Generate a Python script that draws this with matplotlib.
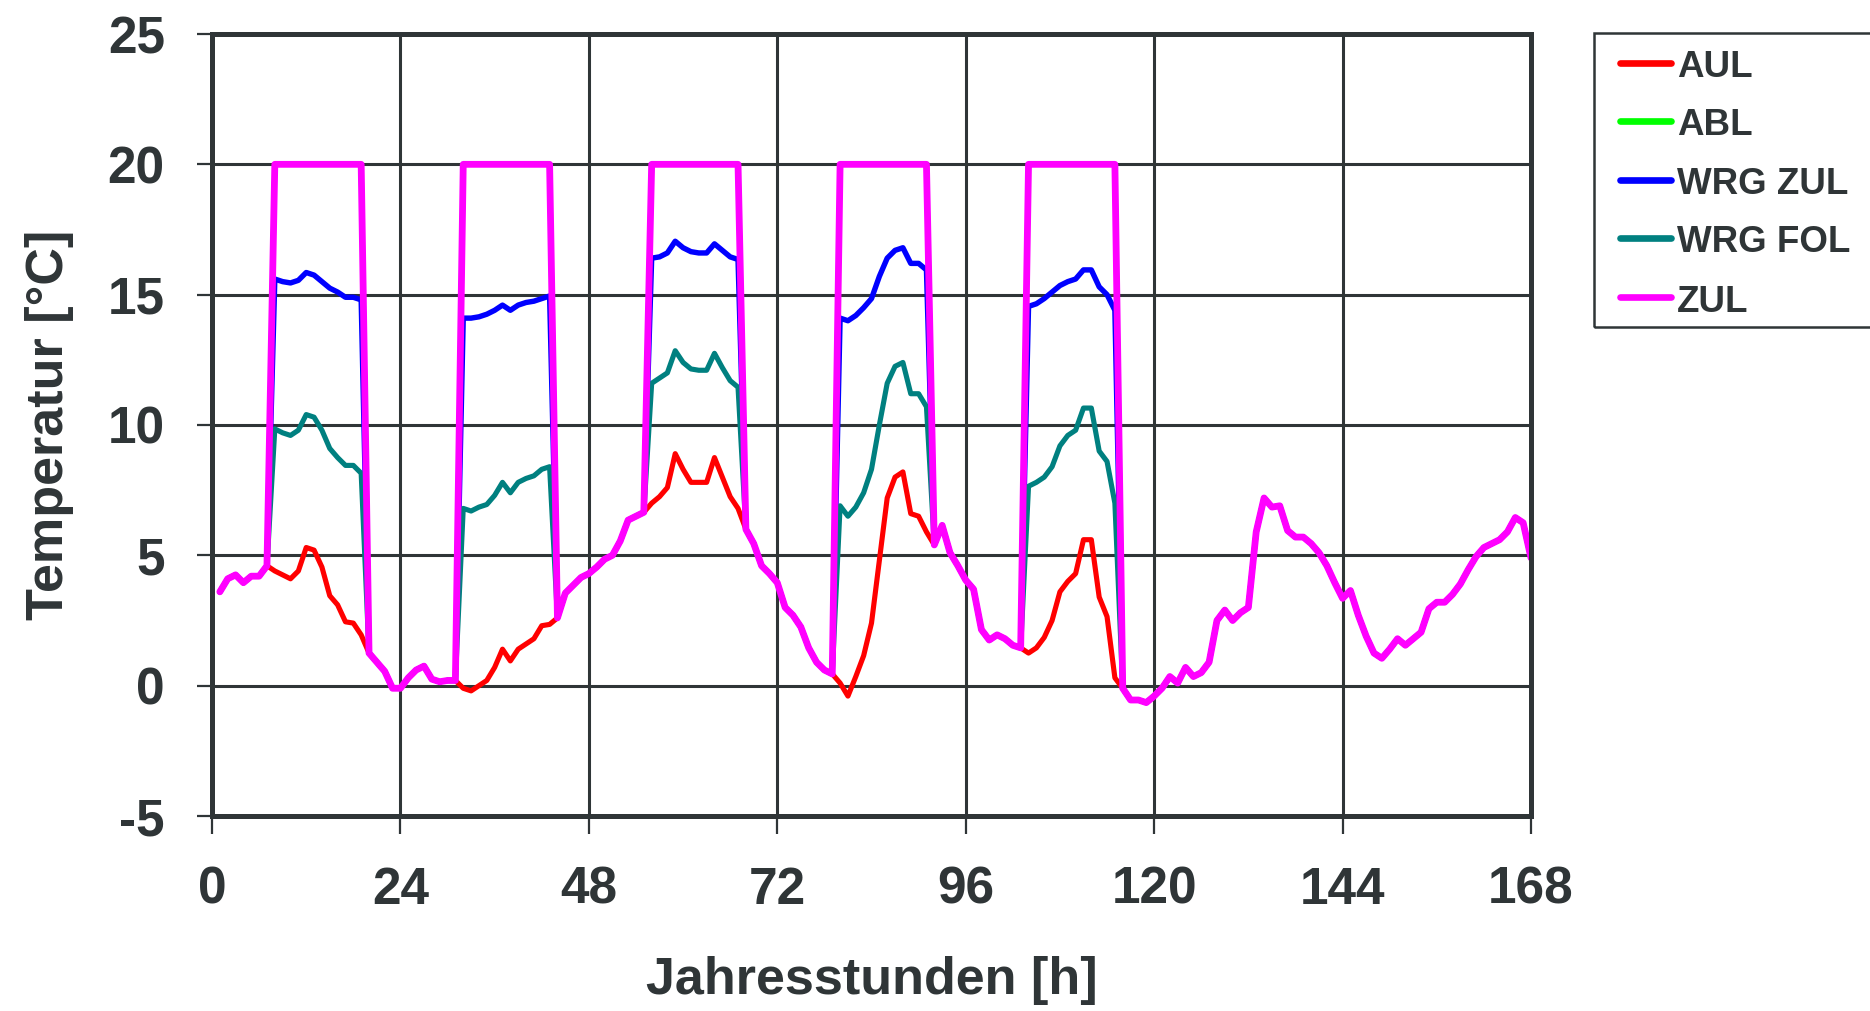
import matplotlib
matplotlib.use("Agg")
import matplotlib.pyplot as plt
from matplotlib.lines import Line2D
from matplotlib.patches import Rectangle

# ---------------- data ----------------
hours = list(range(1, 169))

# outdoor air (AUL), hourly values h1..h168
aul = [
    3.6, 4.1, 4.25, 3.95, 4.2, 4.2, 4.6, 4.4, 4.25, 4.1, 4.4, 5.3,
    5.2, 4.55, 3.45, 3.1, 2.45, 2.4, 1.95, 1.25, 0.9, 0.55, -0.1, -0.1,
    0.3, 0.6, 0.75, 0.25, 0.15, 0.2, 0.2, -0.1, -0.2, 0.0, 0.2, 0.7,
    1.4, 0.95, 1.4, 1.6, 1.8, 2.3, 2.35, 2.6, 3.55, 3.85, 4.15, 4.3,
    4.55, 4.85, 5.0, 5.55, 6.35, 6.5, 6.65, 7.0, 7.25, 7.6, 8.9, 8.3,
    7.8, 7.8, 7.8, 8.75, 8.0, 7.25, 6.8, 6.0, 5.45, 4.6, 4.3, 3.95,
    3.0, 2.7, 2.25, 1.45, 0.9, 0.6, 0.45, 0.1, -0.4, 0.35, 1.15, 2.4,
    4.8, 7.2, 8.0, 8.2, 6.6, 6.5, 5.9, 5.4, 6.15, 5.1, 4.6, 4.05,
    3.7, 2.15, 1.75, 1.95, 1.8, 1.55, 1.45, 1.25, 1.45, 1.85, 2.5, 3.6,
    4.0, 4.3, 5.6, 5.6, 3.4, 2.65, 0.3, -0.1, -0.55, -0.55, -0.65, -0.4,
    -0.1, 0.35, 0.1, 0.7, 0.35, 0.5, 0.9, 2.5, 2.9, 2.5, 2.8, 3.0,
    5.9, 7.2, 6.85, 6.9, 5.95, 5.7, 5.7, 5.45, 5.1, 4.6, 3.95, 3.35,
    3.65, 2.7, 1.9, 1.25, 1.05, 1.4, 1.8, 1.55, 1.8, 2.05, 2.95, 3.2,
    3.2, 3.5, 3.9, 4.45, 4.95, 5.3, 5.45, 5.6, 5.9, 6.45, 6.25, 4.9,
]

# operating periods (first hour of each 12-hour block)
block_starts = [8, 32, 56, 80, 104]
zul_setpoint = 20.0

# supply air after heat recovery (WRG ZUL) during operation
wrg_zul_blocks = [
    [15.6, 15.5, 15.45, 15.55, 15.85, 15.75, 15.5, 15.25, 15.1, 14.9, 14.9, 14.8],
    [14.1, 14.1, 14.15, 14.25, 14.4, 14.6, 14.4, 14.6, 14.7, 14.75, 14.85, 14.95],
    [16.4, 16.45, 16.6, 17.05, 16.8, 16.65, 16.6, 16.6, 16.95, 16.7, 16.45, 16.35],
    [14.1, 14.0, 14.2, 14.5, 14.85, 15.7, 16.4, 16.7, 16.8, 16.2, 16.2, 15.95],
    [14.55, 14.65, 14.85, 15.1, 15.35, 15.5, 15.6, 15.95, 15.95, 15.3, 15.0, 14.4],
]

# exhaust after heat recovery (WRG FOL) during operation
wrg_fol_blocks = [
    [9.85, 9.7, 9.6, 9.8, 10.4, 10.3, 9.8, 9.1, 8.75, 8.45, 8.45, 8.15],
    [6.8, 6.7, 6.85, 6.95, 7.3, 7.8, 7.4, 7.8, 7.95, 8.05, 8.3, 8.4],
    [11.6, 11.8, 12.0, 12.85, 12.4, 12.15, 12.1, 12.1, 12.75, 12.2, 11.7, 11.45],
    [6.9, 6.5, 6.85, 7.4, 8.3, 10.0, 11.6, 12.25, 12.4, 11.2, 11.2, 10.7],
    [7.65, 7.8, 8.0, 8.4, 9.2, 9.6, 9.8, 10.65, 10.65, 9.0, 8.6, 7.0],
]

series_names = ["AUL", "ABL", "WRG ZUL", "WRG FOL", "ZUL"]
series_colors = ["#ff0000", "#00ff00", "#0000ff", "#008080", "#ff00ff"]

x_ticks = [0, 24, 48, 72, 96, 120, 144, 168]
y_ticks = [-5, 0, 5, 10, 15, 20, 25]

# -------- build series --------
wrg_zul = list(aul)
wrg_fol = list(aul)
zul = list(aul)
for b, s in enumerate(block_starts):
    for k in range(12):
        i = s - 1 + k
        wrg_zul[i] = wrg_zul_blocks[b][k]
        wrg_fol[i] = wrg_fol_blocks[b][k]
        zul[i] = zul_setpoint
abl = list(zul)   # hidden under ZUL in the original

data = [aul, abl, wrg_zul, wrg_fol, zul]
widths = [3.7, 3.7, 3.9, 3.7, 4.9]

# ---------------- style ----------------
TXT = "#2f3537"
FONT = "Liberation Sans"
plt.rcParams["font.family"] = [FONT, "DejaVu Sans"]
plt.rcParams["font.weight"] = "bold"
plt.rcParams["axes.unicode_minus"] = False

W, H = 1870, 1011
fig = plt.figure(figsize=(W / 100, H / 100), dpi=100)
ax = fig.add_axes([212 / W, 1 - 816 / H, 1319 / W, 782 / H])

for vals, name, col, lw in zip(data, series_names, series_colors, widths):
    ax.plot(hours, vals, color=col, lw=lw, label=name,
            solid_joinstyle="round", solid_capstyle="round", zorder=3)

ax.set_xlim(0, 168)
ax.set_ylim(-5, 25)
ax.set_xticks(x_ticks)
ax.set_yticks(y_ticks)
ax.grid(True, color=TXT, lw=2.2)
ax.set_axisbelow(True)

for sp in ax.spines.values():
    sp.set_color(TXT)
    sp.set_linewidth(3.6)
    sp.set_zorder(4)

ax.tick_params(axis="x", direction="out", length=13, width=1.6, color=TXT,
               pad=23, labelsize=37, labelcolor=TXT)
ax.tick_params(axis="y", direction="out", length=11, width=1.6, color=TXT,
               pad=23, labelsize=37, labelcolor=TXT)
for lab in ax.get_xticklabels() + ax.get_yticklabels():
    lab.set_fontweight("bold")

ax.set_xlabel("Jahresstunden [h]", fontsize=37.5, fontweight="bold", color=TXT)
ax.set_ylabel("Temperatur [°C]", fontsize=37.5, fontweight="bold", color=TXT)
ax.xaxis.set_label_coords(0.5, (816 - 956) / 782)
ax.yaxis.set_label_coords((74 - 212) / 1319, 0.5)

# ---------------- legend (drawn in figure pixels) ----------------
def fx(px):
    return px / W

def fy(py):
    return 1 - py / H

fig.add_artist(Rectangle((fx(1594), fy(327)), fx(1920 - 1594), (327 - 33) / H,
                         transform=fig.transFigure, fill=False, ec=TXT,
                         lw=1.8, clip_on=False))
line_y = [63.3, 120.7, 180.0, 238.3, 296.7]
base_y = [77.0, 135.0, 194.5, 252.5, 311.5]
for name, col, ly, by in zip(series_names, series_colors, line_y, base_y):
    fig.add_artist(Line2D([fx(1620), fx(1671)], [fy(ly), fy(ly)], color=col,
                          lw=4.8, solid_capstyle="round",
                          transform=fig.transFigure))
    fig.text(fx(1677), fy(by), name, ha="left", va="baseline", fontsize=26.5,
             fontweight="bold", color=TXT)

fig.savefig("out.png", dpi=100)
